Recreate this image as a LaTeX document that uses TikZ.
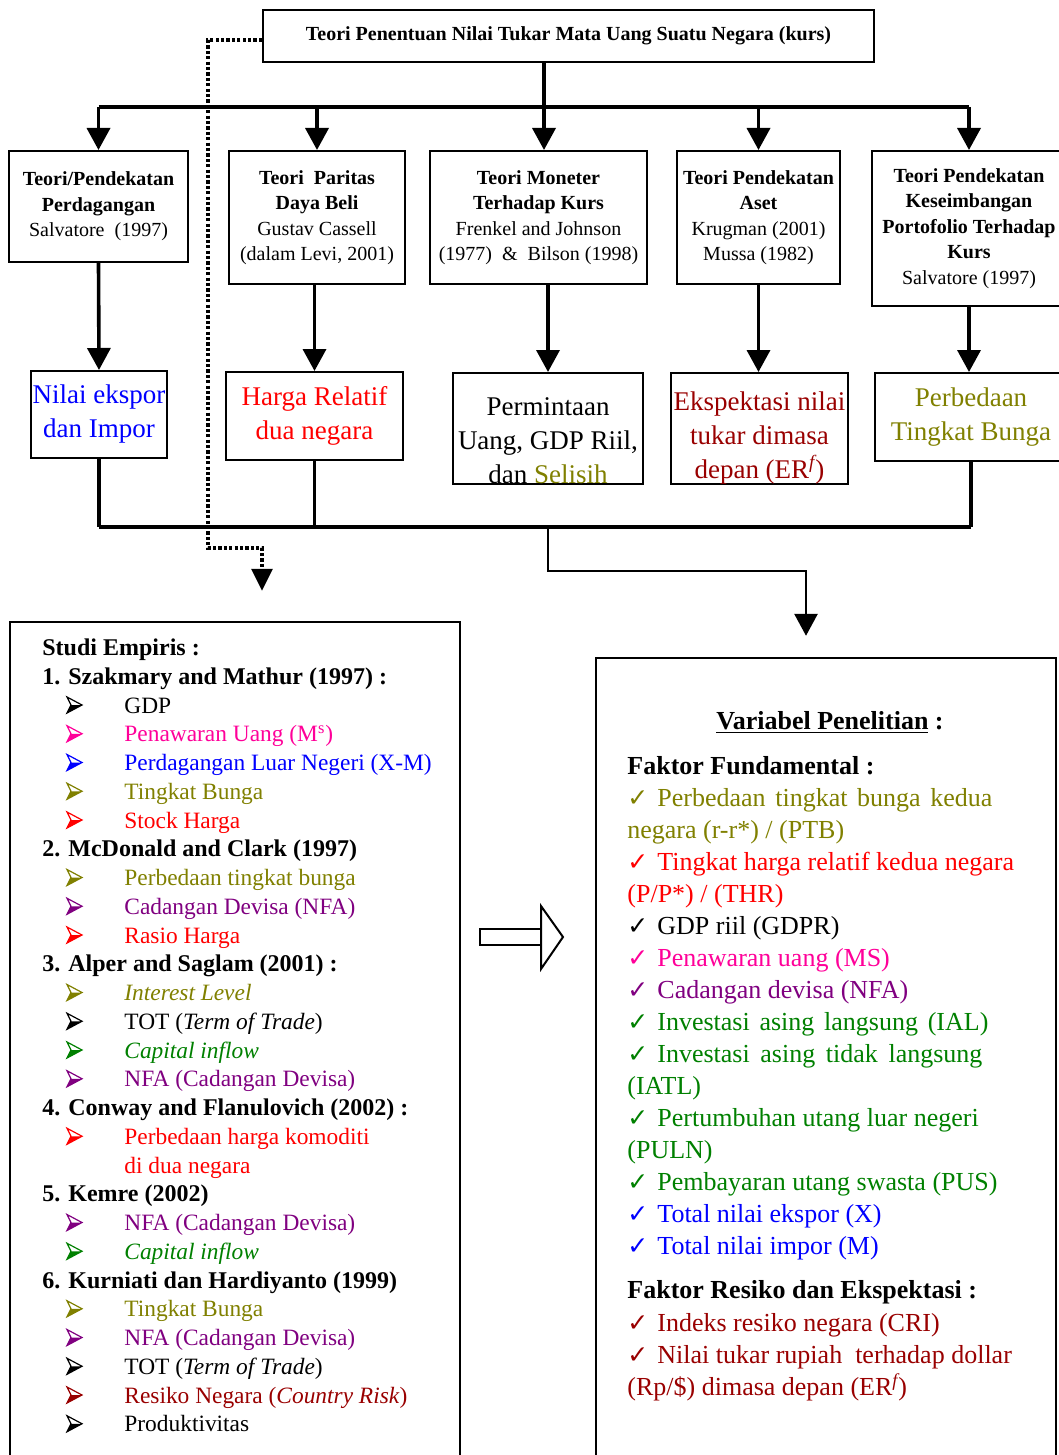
\documentclass[tikz,border=0pt]{standalone}
\usepackage{fontspec}
\setmainfont{Liberation Serif}
\newfontfamily\dejavu{DejaVu Sans}
\usetikzlibrary{arrows.meta}
\definecolor{cBlue}{RGB}{0,0,255}
\definecolor{cRed}{RGB}{255,0,0}
\definecolor{cOlive}{RGB}{128,128,0}
\definecolor{cPink}{RGB}{255,0,153}
\definecolor{cPurple}{RGB}{128,0,128}
\definecolor{cGreen}{RGB}{0,128,0}
\definecolor{cDark}{RGB}{153,0,0}
\newcommand\myfA{\fontsize{10}{12.75}\selectfont}
\newcommand\myfB{\fontsize{13.5}{17}\selectfont}
\newcommand\myfL{\fontsize{11.7}{14}\selectfont}
\newcommand\myfH{\fontsize{12}{14}\selectfont}
\newcommand\myfR{\fontsize{13}{16}\selectfont}
\newcommand\myfCk{\dejavu\fontsize{12.5}{14}\selectfont}
\newcommand\mybul[2]{%
  \begin{scope}[shift={(67,{655.5+28.75*#2-8})}]
    \fill[#1] (4,0) -- (15,0) -- (0,8) -- cycle;
    \draw[#1, line width=0.6pt, line join=miter] (0,-8) -- (15,0) -- (0,8) -- (4,0) -- cycle;
  \end{scope}}
\newcommand\lit[4]{%
  \mybul{#3}{#2}
  \node[ltext, text=#3] (#1) at (124,{655.5+28.75*#2}) {#4};}
\newcommand\lhead[3]{%
  \node[ltext, font=\myfH\bfseries] (#1) at (42,{655.5+28.75*#2}) {#3};}
\newcommand\rit[4]{%
  \node[rtext, text=#3, font=\myfCk] (#1c) at (627,#2) {✓};
  \node[rtext, text=#3] (#1) at (657,#2) {#4};}
\newcommand\rcont[4]{%
  \node[rtext, text=#3] (#1) at (627,#2) {#4};}
\begin{document}
\begin{tikzpicture}[x=0.5pt,y=-0.5pt,
  box/.style={draw, line width=1pt, inner sep=0pt, align=center},
  arr/.style={line width=1.8pt, -{Triangle[length=11pt,width=11.5pt]}},
  lnk/.style={line width=1.6pt},
  dots/.style={line width=1.6pt, dash pattern=on 1.6pt off 1.1pt},
  ltext/.style={anchor=base west, inner sep=0pt, font=\myfL},
  rtext/.style={anchor=base west, inner sep=0pt, font=\myfR},
]
\useasboundingbox (0,0) rectangle (1059,1455);

% top box
\node[box, minimum width=305.5pt, minimum height=26pt, font=\myfA\bfseries] (top) at (568.5,36)
  {Teori Penentuan Nilai Tukar Mata Uang Suatu Negara (kurs)};

% row 1
\node[box, minimum width=89.5pt, minimum height=55.5pt, font=\myfA] (b1) at (98.5,206.5)
  {\textbf{Teori/Pendekatan}\\\textbf{Perdagangan}\\Salvatore\ \ (1997)};
\node[box, minimum width=88pt, minimum height=66.5pt, font=\myfA] (b2) at (317,217.5)
  {\textbf{Teori\ \ Paritas}\\\textbf{Daya Beli}\\Gustav Cassell\\(dalam Levi, 2001)};
\node[box, minimum width=108.5pt, minimum height=66.5pt, font=\myfA] (b3) at (538.5,217.5)
  {\textbf{Teori Moneter}\\\textbf{Terhadap Kurs}\\Frenkel and Johnson\\(1977)\ \ \&\ \ Bilson (1998)};
\node[box, minimum width=81.5pt, minimum height=66.5pt, font=\myfA] (b4) at (758.5,217.5)
  {\textbf{Teori Pendekatan}\\\textbf{Aset}\\Krugman (2001)\\Mussa (1982)};
\node[box, minimum width=97pt, minimum height=77.5pt, font=\myfA] (b5) at (969,228.5)
  {\textbf{Teori Pendekatan}\\\textbf{Keseimbangan}\\\textbf{Portofolio Terhadap}\\\textbf{Kurs}\\Salvatore (1997)};

% row 2
\node[box, minimum width=68pt, minimum height=43.5pt, font=\myfB, text=cBlue] (c1) at (99,414.5)
  {Nilai ekspor\\dan Impor};
\node[box, minimum width=88.5pt, minimum height=44pt, font=\myfB, text=cRed] (c2) at (314.5,416)
  {Harga Relatif\\dua negara};
\node[box, minimum width=95pt, minimum height=55.5pt] (c3) at (548,428.5) {};
\node[align=center, inner sep=0pt, font=\myfB] (t3) at (548,441)
  {Permintaan\\Uang, GDP Riil,\\dan \textcolor{cOlive}{Selisih}};
\node[box, minimum width=88.5pt, minimum height=55.5pt] (c4) at (759.5,428.5) {};
\node[align=center, inner sep=0pt, font=\myfB, text=cDark] (t4) at (759.5,438)
  {Ekspektasi nilai\\tukar dimasa\\depan (ER\textsuperscript{\itshape f})};
\node[box, minimum width=96pt, minimum height=44pt, font=\myfB, text=cOlive] (c5) at (971,417)
  {Perbedaan\\Tingkat Bunga};

% big boxes
\node[draw, line width=1.2pt, minimum width=225pt, minimum height=424pt, inner sep=0pt] (lbox) at (235,1046) {};
\node[draw, line width=1.2pt, minimum width=230pt, minimum height=406pt, inner sep=0pt] (rbox) at (826,1064) {};

% top connectors
\coordinate (busT) at (544,107);
\draw[lnk] (top.south -| busT) -- (busT);
\draw[line width=2pt] (b1.north |- busT) -- (b5.north |- busT);
\draw[arr] (b1.north |- busT) -- (b1.north);
\draw[arr] (b2.north |- busT) -- (b2.north);
\draw[arr] (busT) -- (b3.north -| busT);
\draw[arr] (b4.north |- busT) -- (b4.north);
\draw[arr] (b5.north |- busT) -- (b5.north);

% row1 -> row2
\draw[arr] (b1.south) -- (c1.north);
\draw[arr] (c2.north |- b2.south) -- (c2.north);
\draw[arr] (c3.north |- b3.south) -- (c3.north);
\draw[arr] (b4.south) -- (b4.south |- c4.north);
\draw[arr] (b5.south) -- (b5.south |- c5.north);

% bottom bus
\coordinate (busB) at (548,527);
\coordinate (turn) at (806,571);
\draw[lnk] (c1.south) -- (c1.south |- busB);
\draw[lnk] (c2.south) -- (c2.south |- busB);
\draw[lnk] (c5.south) -- (c5.south |- busB);
\draw[lnk] (c1.south |- busB) -- (c5.south |- busB);
\draw[line width=1.4pt, -{Triangle[length=11pt,width=11.5pt]}, shorten >=10.5pt]
  (busB) -- (busB |- turn) -- (turn) -- (rbox.north -| turn);

% dotted connector
\coordinate (d0) at (263,40);
\coordinate (dA) at (208,548);
\coordinate (dturn) at (262,548);
\draw[dots, -{Triangle[length=11pt,width=10.5pt]}, shorten >=15pt]
  (top.west |- d0) -| (dA) -- (dturn) -- (lbox.north -| dturn);

% hollow arrow
\draw[line width=1pt] (480,929) rectangle (541,945);
\draw[line width=1pt, fill=white, line join=miter] (541,906) -- (563,937) -- (541,969) -- cycle;

% left box content
\lhead{h0}{0}{Studi Empiris :}
\lhead{h1}{1}{1. Szakmary and Mathur (1997) :}
\lit{l2}{2}{black}{GDP}
\lit{l3}{3}{cPink}{Penawaran Uang (M\textsuperscript{s})}
\lit{l4}{4}{cBlue}{Perdagangan Luar Negeri (X-M)}
\lit{l5}{5}{cOlive}{Tingkat Bunga}
\lit{l6}{6}{cRed}{Stock Harga}
\lhead{h2}{7}{2. McDonald and Clark (1997)}
\lit{l8}{8}{cOlive}{Perbedaan tingkat bunga}
\lit{l9}{9}{cPurple}{Cadangan Devisa (NFA)}
\lit{l10}{10}{cRed}{Rasio Harga}
\lhead{h3}{11}{3. Alper and Saglam (2001) :}
\lit{l12}{12}{cOlive}{\textit{Interest Level}}
\lit{l13}{13}{black}{TOT (\textit{Term of Trade})}
\lit{l14}{14}{cGreen}{\textit{Capital inflow}}
\lit{l15}{15}{cPurple}{NFA (Cadangan Devisa)}
\lhead{h4}{16}{4. Conway and Flanulovich (2002) :}
\lit{l17}{17}{cRed}{Perbedaan harga komoditi}
\node[ltext, text=cRed] (l18) at (124,{655.5+28.75*18}) {di dua negara};
\lhead{h5}{19}{5. Kemre (2002)}
\lit{l20}{20}{cPurple}{NFA (Cadangan Devisa)}
\lit{l21}{21}{cGreen}{\textit{Capital inflow}}
\lhead{h6}{22}{6. Kurniati dan Hardiyanto (1999)}
\lit{l23}{23}{cOlive}{Tingkat Bunga}
\lit{l24}{24}{cPurple}{NFA (Cadangan Devisa)}
\lit{l25}{25}{black}{TOT (\textit{Term of Trade})}
\lit{l26}{26}{cDark}{Resiko Negara (\textit{Country Risk})}
\lit{l27}{27}{black}{Produktivitas}

% right box content
\node[rtext, font=\myfR\bfseries] (vp) at (716,729) {\underline{Variabel Penelitian} :};
\node[rtext, font=\myfR\bfseries] (ff) at (627,774) {Faktor Fundamental :};
\rit{r0}{806}{cOlive}{\makebox[167.5pt][s]{Perbedaan tingkat bunga kedua}}
\rcont{r1}{838}{cOlive}{negara (r-r*) / (PTB)}
\rit{r2}{870}{cRed}{Tingkat harga relatif kedua negara}
\rcont{r3}{902}{cRed}{(P/P*) / (THR)}
\rit{r4}{934}{black}{GDP riil (GDPR)}
\rit{r5}{966}{cPink}{Penawaran uang (MS)}
\rit{r6}{998}{cPurple}{Cadangan devisa (NFA)}
\rit{r7}{1030}{cGreen}{\makebox[165.5pt][s]{Investasi asing langsung (IAL)}}
\rit{r8}{1062}{cGreen}{\makebox[162.5pt][s]{Investasi asing tidak langsung}}
\rcont{r9}{1094}{cGreen}{(IATL)}
\rit{r10}{1126}{cGreen}{Pertumbuhan utang luar negeri}
\rcont{r11}{1158}{cGreen}{(PULN)}
\rit{r12}{1190}{cGreen}{Pembayaran utang swasta (PUS)}
\rit{r13}{1222}{cBlue}{Total nilai ekspor (X)}
\rit{r14}{1254}{cBlue}{Total nilai impor (M)}
\node[rtext, font=\myfR\bfseries] (fr) at (627,1298) {Faktor Resiko dan Ekspektasi :};
\rit{r15}{1331}{cDark}{Indeks resiko negara (CRI)}
\rit{r16}{1363}{cDark}{Nilai tukar rupiah\ \ terhadap dollar}
\rcont{r17}{1395}{cDark}{(Rp/\$) dimasa depan (ER\textsuperscript{\itshape f})}
\end{tikzpicture}
\end{document}
